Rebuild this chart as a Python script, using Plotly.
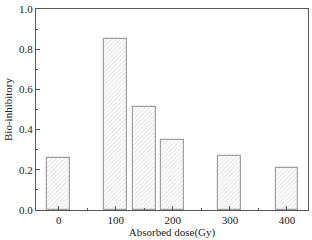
import plotly.graph_objects as go

doses = [0, 100, 150, 200, 300, 400]
inhibition = [0.26, 0.85, 0.51, 0.35, 0.27, 0.21]
xtick_vals = [0, 100, 200, 300, 400]
ytick_vals = [0.0, 0.2, 0.4, 0.6, 0.8, 1.0]

fig = go.Figure()
fig.add_trace(go.Bar(
    x=doses, y=inhibition, width=40,
    marker=dict(color="white",
                line=dict(color="#a0a0a0", width=1.2),
                pattern=dict(shape="/", fgcolor="#c8c8c8", bgcolor="white", size=3, solidity=0.35)),
))

axis_common = dict(showline=True, linecolor="#555555", linewidth=1.2, mirror=True,
                   ticks="inside", ticklen=4, tickcolor="#555555", showgrid=False, zeroline=False,
                   ticklabeloverflow="allow",
                   tickfont=dict(family="Liberation Serif, Times New Roman, serif", size=11, color="#222"))

fig.update_layout(
    width=312, height=240,
    margin=dict(l=36, r=3, t=5, b=30),
    plot_bgcolor="white", paper_bgcolor="white",
    showlegend=False,
    font=dict(family="Liberation Serif, Times New Roman, serif", size=11, color="#222"),
    bargap=0,
)
fig.update_xaxes(range=[-40, 437], tickvals=xtick_vals,
                 minor=dict(ticks="inside", ticklen=2, dtick=50, tick0=0, tickcolor="#555555"),
                 title=dict(text="Absorbed dose(Gy)", standoff=2, font=dict(size=11)),
                 **axis_common)
fig.update_yaxes(range=[0, 1.0], tickvals=ytick_vals, tickformat=".1f",
                 minor=dict(ticks="inside", ticklen=2, dtick=0.1, tick0=0, tickcolor="#555555"),
                 title=dict(text="Bio-inhibitory", standoff=4, font=dict(size=11)),
                 **axis_common)

fig.write_html("out.html")
